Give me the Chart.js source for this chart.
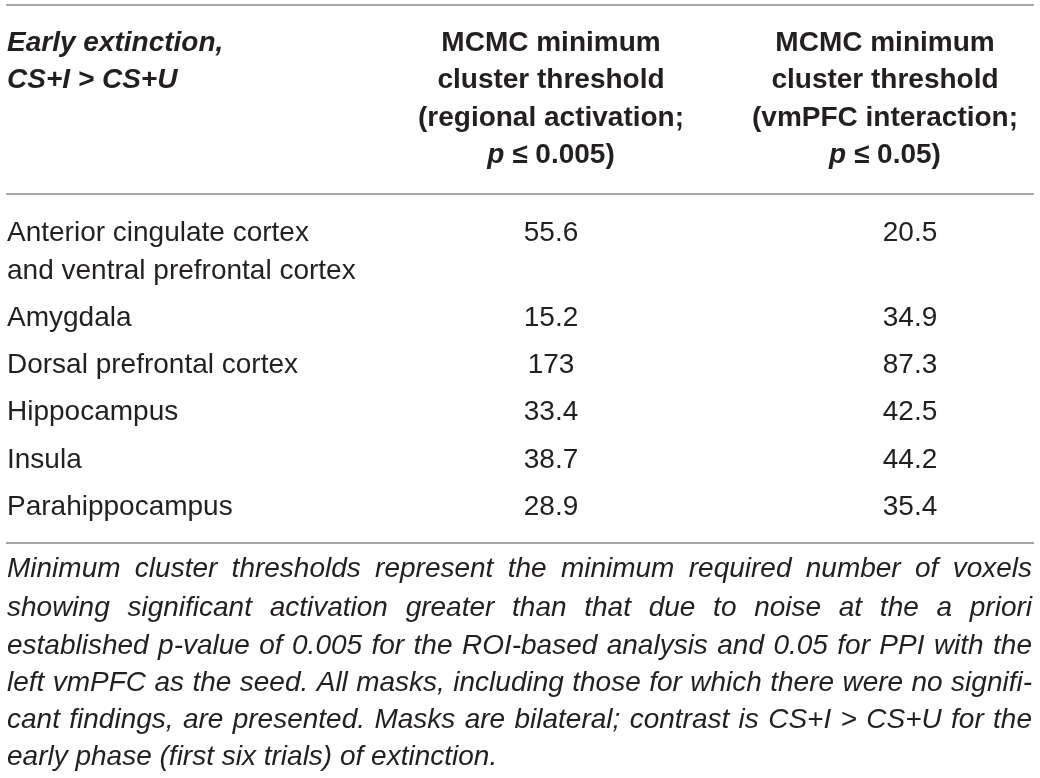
<!DOCTYPE html>
<html>
<head>
<meta charset="utf-8">
<script src="https://cdn.jsdelivr.net/npm/chart.js@4"></script>
<style>
  html, body { margin: 0; padding: 0; background: #fff; }
  #wrap { width: 1040px; height: 778px; }
</style>
</head>
<body>
<div id="wrap"><canvas id="tableChart"></canvas></div>
<script>
// table content
const regions = [
   ['Anterior cingulate cortex', 'and ventral prefrontal cortex'],
   ['Amygdala'],
   ['Dorsal prefrontal cortex'],
   ['Hippocampus'],
   ['Insula'],
   ['Parahippocampus']
];
const regionalThreshold = ['55.6', '15.2', '173', '33.4', '38.7', '28.9'];
const vmpfcThreshold = ['20.5', '34.9', '87.3', '42.5', '44.2', '35.4'];
const headerFirst = ['Early extinction,', 'CS+I > CS+U'];
const headerRegional = ['MCMC minimum', 'cluster threshold', '(regional activation;', 'p ≤ 0.005)'];
const headerVmpfc = ['MCMC minimum', 'cluster threshold', '(vmPFC interaction;', 'p ≤ 0.05)'];
const footnote = [
   'Minimum cluster thresholds represent the minimum required number of voxels',
   'showing significant activation greater than that due to noise at the a priori',
   'established p-value of 0.005 for the ROI-based analysis and 0.05 for PPI with the',
   'left vmPFC as the seed. All masks, including those for which there were no signifi-',
   'cant findings, are presented. Masks are bilateral; contrast is CS+I > CS+U for the',
   'early phase (first six trials) of extinction.'
];

// layout (in scale units, which match the page pixels)
const rowY = [233, 318, 365, 412, 460, 507];
const lineGap = 38;
const headerY = [43, 80, 118, 155];
const ruleY = [5, 194, 543];
const footY = [569, 608, 646, 683, 720, 757];
const left = 6, right = 1034;
const colRegional = 551, colVmpfcHead = 885, colVmpfc = 910;
const fam = '"Liberation Sans", Arial, Helvetica, sans-serif';
const ink = '#231f20';

const tablePlugin = {
   id: 'tableDraw',
   afterDraw(chart) {
      const c = chart.ctx, x = chart.scales.x, y = chart.scales.y;
      c.save();
      c.textBaseline = 'middle';
      c.fillStyle = ink;

      // rules
      c.strokeStyle = '#8a8a8a';
      c.lineWidth = 1.5;
      ruleY.forEach(v => {
         c.beginPath();
         c.moveTo(x.getPixelForValue(left), y.getPixelForValue(v));
         c.lineTo(x.getPixelForValue(right), y.getPixelForValue(v));
         c.stroke();
      });

      // header
      c.font = 'italic bold 28px ' + fam;
      c.textAlign = 'left';
      headerFirst.forEach((t, i) => c.fillText(t, x.getPixelForValue(left + 1), y.getPixelForValue(headerY[i])));
      const headCol = (lines, cx) => {
         lines.forEach((t, i) => {
            if (t.startsWith('p ')) {
               c.font = 'italic bold 28px ' + fam;
               const a = 'p';
               c.font = 'italic bold 28px ' + fam;
               const wa = c.measureText(a).width;
               c.font = 'bold 28px ' + fam;
               const rest = t.slice(1);
               const wb = c.measureText(rest).width;
               let sx = x.getPixelForValue(cx) - (wa + wb) / 2;
               c.textAlign = 'left';
               c.font = 'italic bold 28px ' + fam;
               c.fillText(a, sx, y.getPixelForValue(headerY[i]));
               c.font = 'bold 28px ' + fam;
               c.fillText(rest, sx + wa, y.getPixelForValue(headerY[i]));
            } else {
               c.font = 'bold 28px ' + fam;
               c.textAlign = 'center';
               c.fillText(t, x.getPixelForValue(cx), y.getPixelForValue(headerY[i]));
            }
         });
      };
      headCol(headerRegional, colRegional);
      headCol(headerVmpfc, colVmpfcHead);

      // body
      c.font = '28px ' + fam;
      regions.forEach((lines, r) => {
         c.textAlign = 'left';
         lines.forEach((t, k) => c.fillText(t, x.getPixelForValue(left + 1), y.getPixelForValue(rowY[r] + k * lineGap)));
         c.textAlign = 'center';
         c.fillText(regionalThreshold[r], x.getPixelForValue(colRegional), y.getPixelForValue(rowY[r]));
         c.fillText(vmpfcThreshold[r], x.getPixelForValue(colVmpfc), y.getPixelForValue(rowY[r]));
      });

      // footnote, justified
      c.font = 'italic 28px ' + fam;
      c.textAlign = 'left';
      const x0 = x.getPixelForValue(left + 1), x1 = x.getPixelForValue(right - 2);
      footnote.forEach((t, i) => {
         const py = y.getPixelForValue(footY[i]);
         const words = t.split(' ');
         const last = i === footnote.length - 1;
         if (last) { c.fillText(t, x0, py); return; }
         const ws = words.map(w => c.measureText(w).width);
         const total = ws.reduce((a, b) => a + b, 0);
         const space = c.measureText(' ').width;
         let gap = (x1 - x0 - total) / (words.length - 1);
         let sc = 1;
         if (gap < space * 0.6) {
            gap = space * 0.6;
            sc = (x1 - x0) / (total + gap * (words.length - 1));
         }
         c.save();
         c.translate(x0, py);
         c.scale(sc, 1);
         let px = 0;
         words.forEach((w, j) => { c.fillText(w, px, 0); px += ws[j] + gap; });
         c.restore();
      });
      c.restore();
   }
};

new Chart(document.getElementById('tableChart').getContext('2d'), {
   type: 'scatter',
   data: { datasets: [{ data: [] }] },
   options: {
      responsive: true,
      maintainAspectRatio: false,
      animation: false,
      layout: { padding: 0 },
      plugins: { legend: { display: false }, tooltip: { enabled: false } },
      scales: {
         x: { type: 'linear', display: false, min: 0, max: 1040 },
         y: { type: 'linear', display: false, min: 0, max: 778, reverse: true }
      }
   },
   plugins: [tablePlugin]
});
</script>
</body>
</html>
